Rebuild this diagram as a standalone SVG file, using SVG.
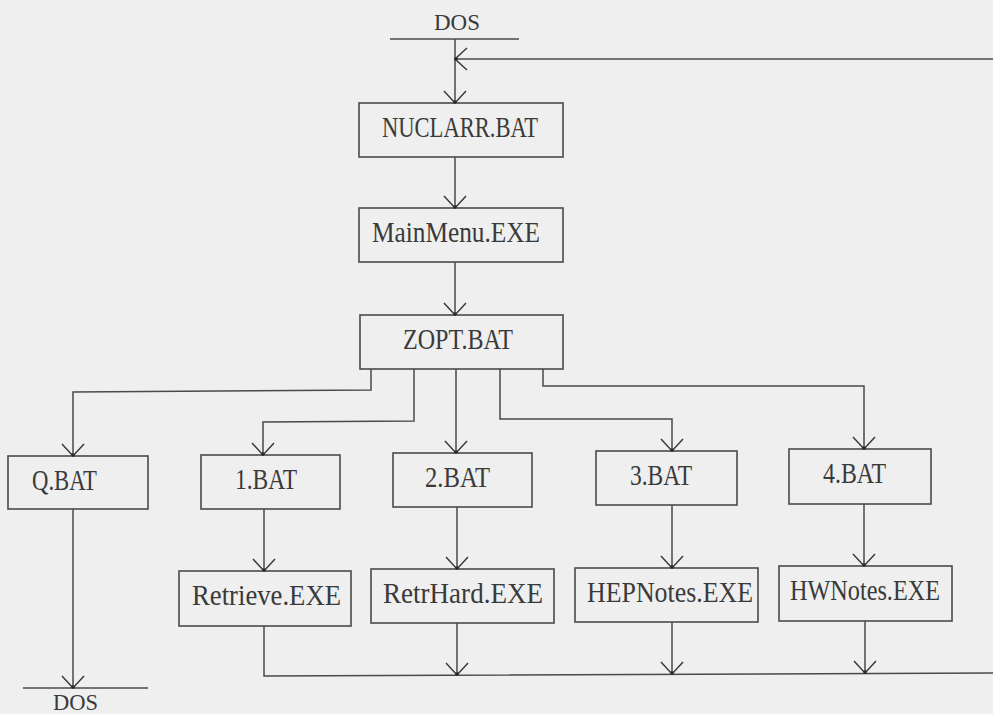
<svg xmlns="http://www.w3.org/2000/svg" width="993" height="714" viewBox="0 0 993 714">
<defs>
<marker id="ah" viewBox="-14 -13 16 26" markerWidth="16" markerHeight="26" refX="0" refY="0" orient="auto" markerUnits="userSpaceOnUse">
<path d="M-12,-11 L0,0 L-12,11" fill="none" stroke="#3a3a3a" stroke-width="1.5"/>
<circle cx="-1" cy="0" r="1.8" fill="#2a2a2a"/>
</marker>
<style>
.box{fill:none;stroke:#4a4a4a;stroke-width:1.6}
.t{font-family:"Liberation Serif","DejaVu Serif",serif;font-size:30px;fill:#3a3a3a}
.ln{fill:none;stroke:#4a4a4a;stroke-width:1.5}
.ar{fill:none;stroke:#4a4a4a;stroke-width:1.5;marker-end:url(#ah)}
</style>
</defs>
<rect width="993" height="714" fill="#efefef"/>
<g id="dos-top">
<text class="t" x="434" y="30" textLength="46" lengthAdjust="spacingAndGlyphs" style="font-size:24px">DOS</text>
<line class="ln" x1="390" y1="39" x2="519" y2="39"/>
</g>
<g id="nuclarr"><rect class="box" x="359" y="103" width="204" height="54"/>
<text class="t" x="382" y="137" textLength="156" lengthAdjust="spacingAndGlyphs">NUCLARR.BAT</text></g>
<g id="mainmenu"><rect class="box" x="359" y="208" width="204" height="54"/>
<text class="t" x="372" y="242" textLength="168" lengthAdjust="spacingAndGlyphs">MainMenu.EXE</text></g>
<g id="zopt"><rect class="box" x="360" y="315" width="203" height="54"/>
<text class="t" x="403" y="349" textLength="110" lengthAdjust="spacingAndGlyphs">ZOPT.BAT</text></g>
<g id="qbat"><rect class="box" x="8" y="456" width="140" height="53"/>
<text class="t" x="32" y="490" textLength="65" lengthAdjust="spacingAndGlyphs">Q.BAT</text></g>
<g id="bat1"><rect class="box" x="201" y="455" width="139" height="54"/>
<text class="t" x="235" y="489" textLength="62" lengthAdjust="spacingAndGlyphs">1.BAT</text></g>
<g id="bat2"><rect class="box" x="393" y="453" width="139" height="54"/>
<text class="t" x="425" y="487" textLength="65" lengthAdjust="spacingAndGlyphs">2.BAT</text></g>
<g id="bat3"><rect class="box" x="596" y="451" width="141" height="54"/>
<text class="t" x="630" y="485" textLength="62" lengthAdjust="spacingAndGlyphs">3.BAT</text></g>
<g id="bat4"><rect class="box" x="789" y="449" width="142" height="55"/>
<text class="t" x="823" y="483" textLength="63" lengthAdjust="spacingAndGlyphs">4.BAT</text></g>
<g id="retrieve"><rect class="box" x="179" y="571" width="172" height="55"/>
<text class="t" x="192" y="605" textLength="149" lengthAdjust="spacingAndGlyphs">Retrieve.EXE</text></g>
<g id="retrhard"><rect class="box" x="371" y="569" width="183" height="54"/>
<text class="t" x="383" y="603" textLength="160" lengthAdjust="spacingAndGlyphs">RetrHard.EXE</text></g>
<g id="hepnotes"><rect class="box" x="575" y="568" width="183" height="54"/>
<text class="t" x="587" y="602" textLength="166" lengthAdjust="spacingAndGlyphs">HEPNotes.EXE</text></g>
<g id="hwnotes"><rect class="box" x="779" y="566" width="173" height="55"/>
<text class="t" x="790" y="600" textLength="150" lengthAdjust="spacingAndGlyphs">HWNotes.EXE</text></g>
<g id="dos-bottom">
<line class="ln" x1="23" y1="688" x2="148" y2="688"/>
<text class="t" x="53" y="710" textLength="45" lengthAdjust="spacingAndGlyphs" style="font-size:24px">DOS</text>
</g>
<g id="connectors">
<line class="ar" x1="455" y1="39" x2="455" y2="103"/>
<line class="ar" x1="993" y1="59" x2="455" y2="59"/>
<line class="ar" x1="455" y1="157" x2="455" y2="208"/>
<line class="ar" x1="455" y1="262" x2="455" y2="315"/>
<polyline class="ar" points="371,369 371,390 73,392 73,456"/>
<polyline class="ar" points="414,369 414,421 263,422 263,455"/>
<line class="ar" x1="456" y1="369" x2="456" y2="453"/>
<polyline class="ar" points="500,369 500,419 672,419 672,451"/>
<polyline class="ar" points="543,369 543,386 864,386 864,449"/>
<line class="ar" x1="264" y1="509" x2="264" y2="571"/>
<line class="ar" x1="457" y1="507" x2="457" y2="569"/>
<line class="ar" x1="672" y1="505" x2="672" y2="568"/>
<line class="ar" x1="864" y1="504" x2="864" y2="566"/>
<polyline class="ln" points="264,626 264,676 993,673"/>
<line class="ar" x1="457" y1="623" x2="457" y2="675"/>
<line class="ar" x1="672" y1="622" x2="672" y2="674"/>
<line class="ar" x1="865" y1="621" x2="865" y2="673"/>
<line class="ar" x1="73" y1="509" x2="73" y2="688"/>
</g>
</svg>
